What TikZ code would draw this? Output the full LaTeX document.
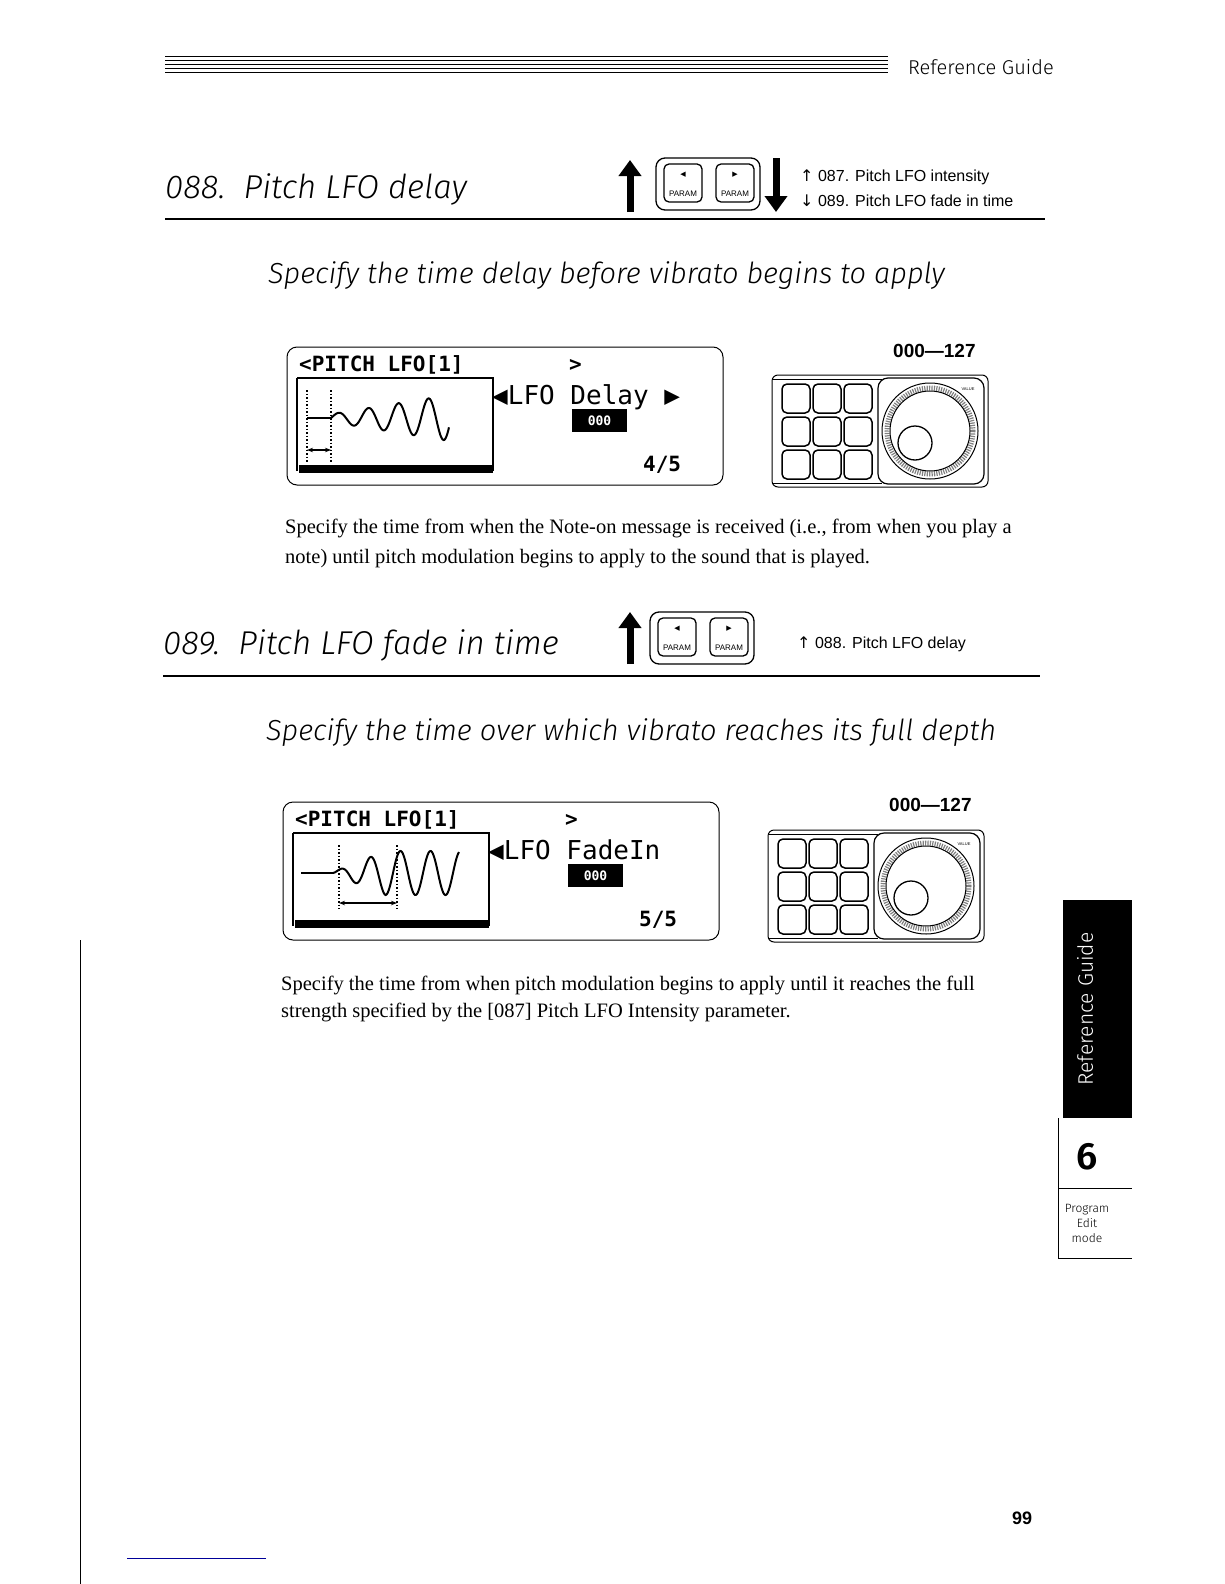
\documentclass[tikz,border=0pt]{standalone}
\usepackage{fontspec}
\setmainfont{Liberation Serif}
\newfontfamily\headfont{Fira Sans Light}
\newfontfamily\labelfont{Liberation Sans}
\newfontfamily\symfont{DejaVu Sans}
\newfontfamily\lcdfont{DejaVu Sans Mono}
\usetikzlibrary{positioning,arrows.meta}

\tikzset{
  heading/.style={anchor=base west,inner sep=0pt,font=\headfont\itshape\fontsize{33}{38}\selectfont},
  subhead/.style={anchor=base west,inner sep=0pt,font=\headfont\itshape\fontsize{29}{34}\selectfont},
  body/.style={anchor=base west,inner sep=0pt,font=\fontsize{20.5}{24}\selectfont},
  xref/.style={anchor=base west,inner sep=0pt,font=\labelfont\fontsize{16}{20}\selectfont},
  lcdtext/.style={anchor=base west,inner sep=0pt,font=\lcdfont\bfseries\fontsize{21}{24}\selectfont},
  rng/.style={anchor=base west,inner sep=0pt,font=\labelfont\bfseries\fontsize{19}{22}\selectfont},
  keybox/.style={draw,line width=1.3pt,rounded corners=5pt},
  bigarrow/.style={-{Triangle[length=16pt,width=22pt]},line width=7pt},
}

% param buttons, lower left corner at #1
\newcommand\parambuttons[1]{
  \begin{scope}[shift={#1}]
    \draw[keybox,rounded corners=9pt] (0,0) rectangle (104,-52);
    \foreach \k in {0,1} {
      \draw[keybox] (8+52*\k,-8) rectangle (46+52*\k,-46);
      \node[font=\symfont\fontsize{7}{8}\selectfont] at (27+52*\k,-35) {\ifnum\k=0 ◀\else ▶\fi};
      \node[font=\labelfont\fontsize{8}{9}\selectfont,inner sep=0pt] at (27+52*\k,-16) {PARAM};
    }
  \end{scope}
}

% value keypad, upper left corner at #1
\newcommand\keypad[1]{
  \begin{scope}[shift={#1}]
    \draw[line width=1pt,rounded corners=6pt] (0,0) rectangle (216,112);
    \draw (0,4) -- (110,4) (0,108) -- (110,108);
    \foreach \r in {0,1,2} \foreach \c in {0,1,2} {
      \draw[keybox,line width=1.5pt] (10+31*\c,9+33*\r) rectangle (38+31*\c,38+33*\r);
    }
    \draw[line width=1.2pt,rounded corners=10pt] (106,3) rectangle (212,109);
    \draw[line width=1pt] (158,56) circle (48);
    \draw[line width=5pt,gray,dash pattern=on 1.2pt off 1.2pt] (158,56) circle (43);
    \draw[line width=1pt] (158,56) circle (40);
    \draw[line width=1.3pt] (143,68) circle (17);
    \node[font=\labelfont\fontsize{4}{5}\selectfont] at (196,14) {VALUE};
  \end{scope}
}

% lcd frame and text, upper left corner at #1
\newcommand\lcdframe[3]{
  \begin{scope}[shift={#1}]
    \draw[line width=1pt,rounded corners=10pt] (0,0) rectangle (436,138);
    \node[lcdtext] at (12,24) {<PITCH LFO[1]};
    \node[lcdtext] at (282,24) {>};
    \draw[line width=2pt] (10,31) -- (10,124) (10,31) -- (206,31) -- (206,124);
    \fill (12,118) rectangle (206,126);
    \node[lcdtext,font=\lcdfont\fontsize{26}{28}\selectfont] at (205,57) {◀LFO #2};
    \fill (285,62) rectangle (340,85);
    \node[font=\lcdfont\bfseries\fontsize{13}{14}\selectfont,text=white,inner sep=0pt] at (312.5,74) {000};
    \node[lcdtext] at (356,124) {#3};
  \end{scope}
}

\begin{document}
\begin{tikzpicture}[x=1pt,y=-1pt]
 \useasboundingbox[fill=white] (0,0) rectangle (1224,1584);
 % header
 \foreach \y in {56,60,64,68,72} \draw[line width=0.6pt] (165,\y) -- (888,\y);
 \node[anchor=base west,inner sep=0pt,font=\headfont\fontsize{20}{24}\selectfont] (guide) at (908,75) {Reference Guide};

 % ---- 088 ----
 \node[heading] (h88) at (165,198) {088.\ \ Pitch LFO delay};
 \draw[line width=1.2pt] (165,219) -- (1045,219);
 \coordinate (up1a) at (630,212); \coordinate (up1b) at (630,160);
 \draw[bigarrow] (up1a) -- (up1b);
 \parambuttons{(656,210)}
 \coordinate (dn1a) at (776,158); \coordinate (dn1b) at (776,212);
 \draw[bigarrow] (dn1a) -- (dn1b);
 \node[xref] (x87) at (800,181) {{\symfont↑} 087. Pitch LFO intensity};
 \node[xref] (x89) at (800,206) {{\symfont↓} 089. Pitch LFO fade in time};
 \node[subhead] (s88) at (268,283) {Specify the time delay before vibrato begins to apply};

 \lcdframe{(287,347)}{Delay ▶}{4/5}
 % delay wave
 \begin{scope}[shift={(297,378)}]
  \draw[line width=2pt] (10,40) -- (34,40);
  \draw[line width=2pt] plot[domain=0:118,samples=150] (34+\x,{40-(4+0.16*\x)*sin(12*\x)});
  \draw[line width=1.5pt,dotted] (10,12) -- (10,84) (34,12) -- (34,84);
  \draw[line width=1.5pt,{Stealth[length=6pt]}-{Stealth[length=6pt]}] (10,72) -- (34,72);
 \end{scope}
 \node[rng] (r88) at (893,357) {000—127};
 \keypad{(772,375)}

 \node[body] (p1a) at (285,533) {Specify the time from when the Note-on message is received (i.e., from when you play a};
 \node[body] (p1b) at (285,563) {note) until pitch modulation begins to apply to the sound that is played.};

 % ---- 089 ----
 \node[heading] (h89) at (163,654) {089.\ \ Pitch LFO fade in time};
 \draw[line width=1.2pt] (163,676) -- (1040,676);
 \coordinate (up2a) at (630,664); \coordinate (up2b) at (630,612);
 \draw[bigarrow] (up2a) -- (up2b);
 \parambuttons{(650,664)}
 \node[xref] (x88) at (797,648) {{\symfont↑} 088. Pitch LFO delay};
 \node[subhead] (s89) at (266,740) {Specify the time over which vibrato reaches its full depth};

 \lcdframe{(283,802)}{FadeIn}{5/5}
 % fade-in wave
 \begin{scope}[shift={(293,833)}]
  \draw[line width=2pt] (8,40) -- (40,40);
  \draw[line width=2pt] plot[domain=0:126,samples=150] (40+\x,{40-min(1+0.4*\x,22)*sin(12*\x)});
  \draw[line width=1.5pt,dotted] (46,12) -- (46,76) (104,12) -- (104,76);
  \draw[line width=1.2pt,{Stealth[length=6pt]}-{Stealth[length=6pt]}] (46,70) -- (104,70);
 \end{scope}
 \node[rng] (r89) at (889,811) {000—127};
 \keypad{(768,830)}

 \node[body] (p2a) at (281,990) {Specify the time from when pitch modulation begins to apply until it reaches the full};
 \node[body] (p2b) at (281,1017) {strength specified by the [087] Pitch LFO Intensity parameter.};

 % side tab
 \fill (1063,900) rectangle (1132,1118);
 \node[rotate=90,text=white,font=\headfont\fontsize{21}{24}\selectfont] (tab) at (1085,1009) {Reference Guide};
 \node[font=\headfont\bfseries\fontsize{38}{40}\selectfont,inner sep=0pt] (six) at (1087,1157) {6};
 \draw[line width=1pt] (1058,1118) -- (1058,1258) -- (1132,1258);
 \draw[line width=0.8pt] (1058,1188) -- (1132,1188);
 \node[align=center,font=\headfont\fontsize{12}{15}\selectfont] (mode) at (1087,1223) {Program\\Edit\\mode};

 % page number and margins
 \node[font=\labelfont\bfseries\fontsize{18}{20}\selectfont] (pg) at (1022,1518) {99};
 \draw[line width=1pt] (80,940) -- (80,1584);
 \draw[blue!60!black,line width=0.6pt] (127,1558) -- (266,1558);
\end{tikzpicture}
\end{document}
